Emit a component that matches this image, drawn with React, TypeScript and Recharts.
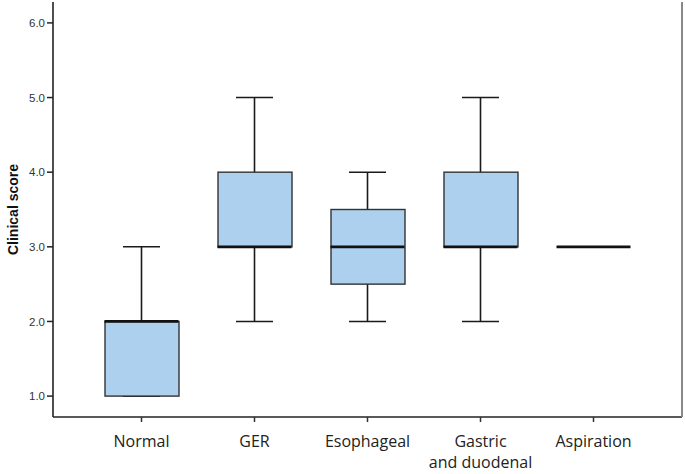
import { ComposedChart, Bar, Scatter, XAxis, YAxis } from "recharts";

const groups = ["Normal", "GER", "Esophageal", "Gastric\nand duodenal", "Aspiration"];
const mins = [1, 2, 2, 2, 3];
const q1s = [1, 3, 2.5, 3, 3];
const medians = [2, 3, 3, 3, 3];
const q3s = [2, 4, 3.5, 4, 3];
const maxs = [3, 5, 4, 5, 3];
const yTicks = [1, 2, 3, 4, 5, 6];

const data = groups.map((g, i) => ({
  group: g,
  whisker: [mins[i], maxs[i]],
  box: [q1s[i], q3s[i]],
  median: medians[i],
}));

const WhiskerShape = (props: any) => {
  const { x, y, width, height } = props;
  if (x == null || y == null) return null;
  const cx = x + width / 2;
  return (
    <g stroke="#1a1a1a" strokeWidth={1.6}>
      <line x1={cx} x2={cx} y1={y} y2={y + height} />
      <line x1={x} x2={x + width} y1={y} y2={y} />
      <line x1={x} x2={x + width} y1={y + height} y2={y + height} />
    </g>
  );
};

const BoxShape = (props: any) => {
  const { x, y, width, height } = props;
  if (x == null || y == null || !height) return null;
  return <rect x={x} y={y} width={width} height={height} fill="#acd0ee" stroke="#333" strokeWidth={1.4} />;
};

const MedianShape = (props: any) => {
  const { cx, cy } = props;
  if (cx == null || cy == null) return null;
  return <line x1={cx - 37} x2={cx + 37} y1={cy} y2={cy} stroke="#111" strokeWidth={2.8} />;
};

const GroupTick = (props: any) => {
  const { x, y, payload } = props;
  const lines = String(payload.value).split("\n");
  return (
    <g>
      {lines.map((l, i) => (
        <text
          key={i}
          x={x}
          y={y + 23 + i * 21}
          textAnchor="middle"
          fontFamily="Open Sans, sans-serif"
          fontSize={16}
          fill="#222"
        >
          {l}
        </text>
      ))}
    </g>
  );
};

const YLabel = (props: any) => {
  const { viewBox } = props;
  const cy = viewBox.y + viewBox.height / 2;
  return (
    <text
      x={18}
      y={cy}
      transform={`rotate(-90 18 ${cy})`}
      textAnchor="middle"
      fontFamily="Liberation Sans, Arial, sans-serif"
      fontWeight="bold"
      fontSize={14}
      fill="#111"
    >
      Clinical score
    </text>
  );
};

export default function App() {
  const domain: [number, number] = [0.72, 6.28];
  return (
    <div>
      <style>{`body{margin:0;background:#fff}`}</style>
      <ComposedChart width={685} height={474} data={data} margin={{ top: 2, right: 1, left: 0, bottom: 0 }}>
        <XAxis
          dataKey="group"
          xAxisId="bottom"
          padding={{ left: 32, right: 32 }}
          height={57}
          interval={0}
          tickLine={{ stroke: "#333", strokeWidth: 1.5 }}
          tickSize={5}
          axisLine={{ stroke: "#222", strokeWidth: 1.6 }}
          tick={<GroupTick />}
        />
        <XAxis
          dataKey="group"
          xAxisId="top"
          orientation="top"
          padding={{ left: 32, right: 32 }}
          height={0}
          tick={false}
          tickLine={false}
          axisLine={{ stroke: "#888", strokeWidth: 2 }}
        />
        <YAxis
          yAxisId="left"
          width={53}
          domain={domain}
          ticks={yTicks}
          type="number"
          allowDataOverflow
          tickFormatter={(v: number) => v.toFixed(1)}
          tickSize={6}
          tickMargin={2}
          tick={{ fontSize: 11.5, fill: "#333", fontFamily: "Liberation Sans, Arial, sans-serif" }}
          tickLine={{ stroke: "#222", strokeWidth: 1.5 }}
          axisLine={{ stroke: "#222", strokeWidth: 1.6 }}
          label={<YLabel />}
        />
        <YAxis
          yAxisId="right"
          orientation="right"
          width={2}
          domain={domain}
          type="number"
          allowDataOverflow
          tick={false}
          tickLine={false}
          axisLine={{ stroke: "#888", strokeWidth: 2 }}
        />
        <Bar
          dataKey="whisker"
          xAxisId="top"
          yAxisId="left"
          barSize={37}
          shape={<WhiskerShape />}
          isAnimationActive={false}
        />
        <Bar
          dataKey="box"
          xAxisId="bottom"
          yAxisId="left"
          barSize={74}
          shape={<BoxShape />}
          isAnimationActive={false}
        />
        <Scatter
          dataKey="median"
          xAxisId="bottom"
          yAxisId="right"
          shape={<MedianShape />}
          isAnimationActive={false}
        />
      </ComposedChart>
    </div>
  );
}
